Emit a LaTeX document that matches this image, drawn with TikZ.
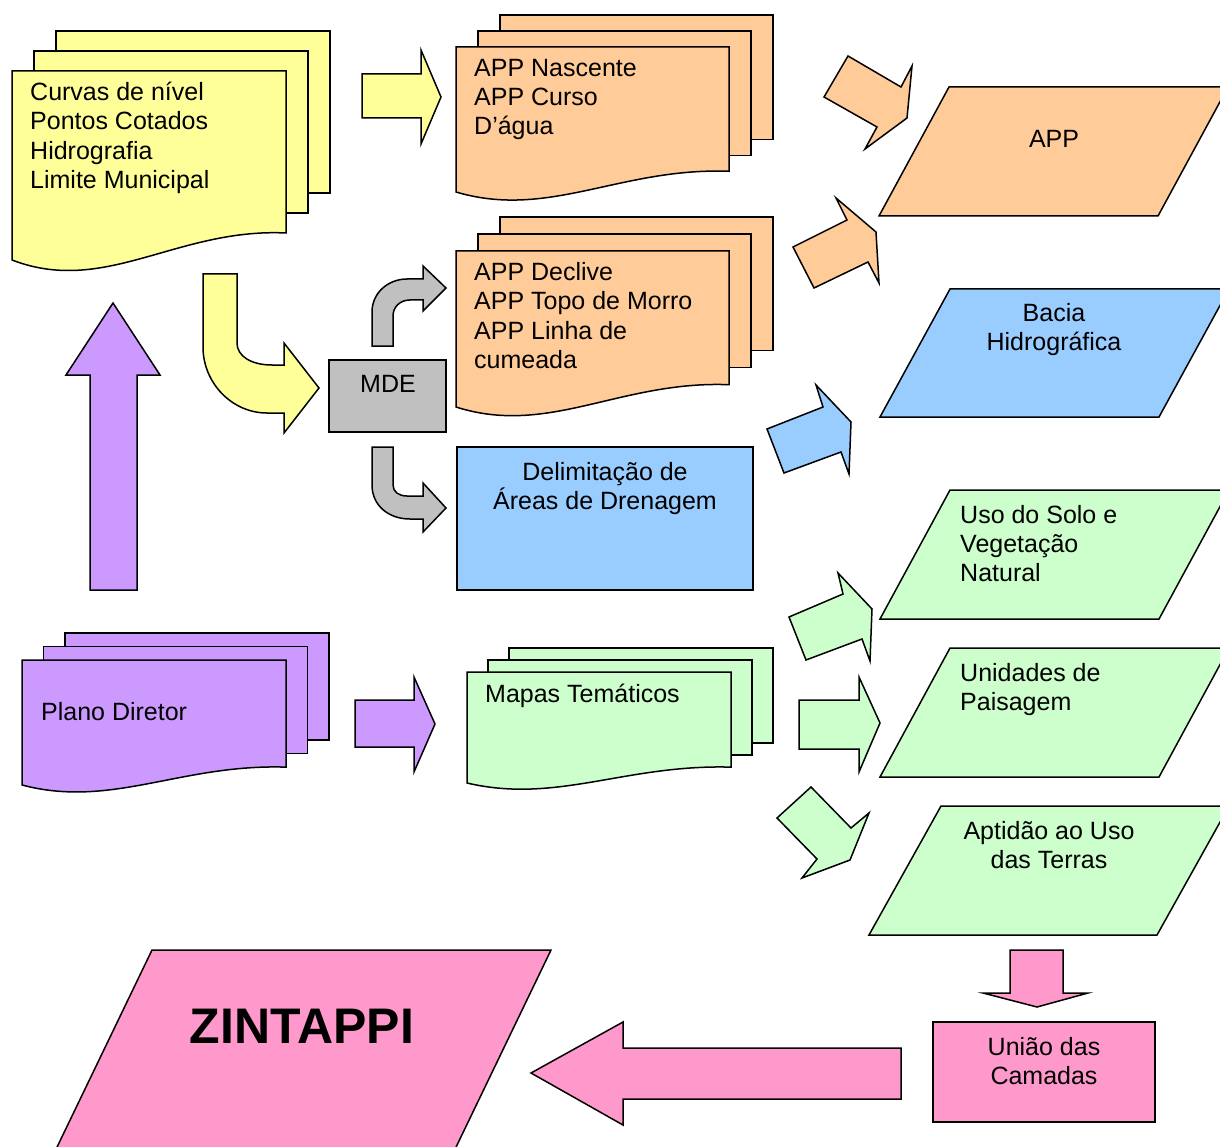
\documentclass[tikz,border=0pt]{standalone}
\usepackage{fontspec}
\setmainfont{Liberation Sans}
\definecolor{cyel}{HTML}{FFFF99}
\definecolor{corg}{HTML}{FFCC99}
\definecolor{cblu}{HTML}{99CCFF}
\definecolor{cgrn}{HTML}{CCFFCC}
\definecolor{cpur}{HTML}{CC99FF}
\definecolor{cgry}{HTML}{C0C0C0}
\definecolor{cpnk}{HTML}{FF99CC}
% multi-document shape: x0 top W H dx dy colour
\newcommand\mdoc[7]{%
  \draw[shp,fill=#7] (#1+2*#5,#2-2*#6) rectangle (#1+2*#5+#3,#2-2*#6+0.857*#4);
  \draw[shp,fill=#7] (#1+#5,#2-#6) rectangle (#1+#5+#3,#2-#6+0.857*#4);
  \draw[shp,fill=#7] (#1,#2) -- (#1+#3,#2) -- (#1+#3,#2+0.857*#4)
     .. controls (#1+0.60*#3,#2+0.83*#4) and (#1+0.34*#3,#2+1.19*#4) .. (#1,#2+#4) -- cycle;}
\begin{document}
\begin{tikzpicture}[x=1pt,y=-1pt,
  shp/.style={draw=black,line width=1.5pt,line join=miter},
  txt/.style={anchor=base west,inner sep=0pt,font=\fontsize{25}{29.3}\selectfont},
  ctxt/.style={anchor=base,inner sep=0pt,font=\fontsize{25}{29.3}\selectfont}]
\useasboundingbox (0,0) rectangle (1220,1147);

% ---------- documents ----------
\mdoc{12}{71}{274}{189}{22}{20}{cyel}
\mdoc{456}{47}{273}{145}{22}{16}{corg}
\mdoc{456}{251}{273}{156}{22}{17}{corg}
\mdoc{467}{672}{264}{111}{21}{12}{cgrn}
\mdoc{22}{660}{264}{125}{21.5}{13.5}{cpur}

% ---------- boxes ----------
\draw[shp,fill=cgry] (329,360) rectangle (446,432);
\draw[shp,fill=cblu] (457,447) rectangle (753,590);
\draw[shp,fill=cpnk] (933,1022) rectangle (1155,1122);

% ---------- parallelograms ----------
\draw[shp,fill=corg] (949,87) -- (1228,87) -- (1158,216) -- (879,216) -- cycle;
\draw[shp,fill=cblu] (950,289) -- (1229,289) -- (1159,417) -- (880,417) -- cycle;
\draw[shp,fill=cgrn] (950,490) -- (1229,490) -- (1159,619) -- (880,619) -- cycle;
\draw[shp,fill=cgrn] (950,648) -- (1229,648) -- (1159,777) -- (880,777) -- cycle;
\draw[shp,fill=cgrn] (941,806) -- (1229,806) -- (1157,935) -- (869,935) -- cycle;
\draw[shp,fill=cpnk] (152,950) -- (551,950) -- (445,1170) -- (46,1170) -- cycle;

% ---------- block arrows ----------
\draw[shp,fill=cyel] (362,74) -- (421,74) -- (421,50) -- (441,97) -- (421,144) -- (421,118) -- (362,118) -- cycle;
\draw[shp,fill=cpur] (90,590) -- (90,375) -- (66,375) -- (113,303) -- (160,375) -- (137,375) -- (137,590) -- cycle;
\draw[shp,fill=cpur] (355,700) -- (414,700) -- (414,677) -- (435,724) -- (414,772) -- (414,747) -- (355,747) -- cycle;
\draw[shp,fill=cgrn] (799,700) -- (859,700) -- (859,677) -- (880,723) -- (859,772) -- (859,749) -- (799,749) -- cycle;
\draw[shp,fill=cpnk] (1010,950) -- (1063,950) -- (1063,993) -- (1088,993) -- (1037,1007) -- (983,993) -- (1010,993) -- cycle;
\draw[shp,fill=cpnk] (901,1048) -- (623,1048) -- (623,1022) -- (531,1073) -- (623,1125) -- (623,1099) -- (901,1099) -- cycle;
% rotated arrows
\draw[shp,fill=corg] (824,97) -- (848,56) -- (901,87) -- (912,66) -- (907,118) -- (865,149) -- (877,127) -- cycle;
\draw[shp,fill=corg] (793,247) -- (847,220) -- (836,198) -- (876,232) -- (879,283) -- (868,262) -- (814,288) -- cycle;
\draw[shp,fill=cblu] (767,429) -- (823,407) -- (816,385) -- (851,422) -- (849,474) -- (841,452) -- (784,473) -- cycle;
\draw[shp,fill=cgrn] (789,617) -- (843,594) -- (838,573) -- (872,609) -- (870,661) -- (862,639) -- (806,660) -- cycle;
\draw[shp,fill=cgrn] (777,818) -- (811,787) -- (851,828) -- (869,813) -- (850,860) -- (802,878) -- (817,859) -- cycle;
% bent arrows
\draw[shp,fill=cyel] (203,274) -- (237,274) -- (237,343) .. controls (237,356) and (251,365) .. (272,365)
  -- (284,365) -- (284,343) -- (319,388) -- (284,433) -- (284,413) -- (267,413)
  .. controls (232,413) and (203,383) .. (203,347) -- cycle;
\draw[shp,fill=cgry] (372,346) -- (372,312) .. controls (372,293) and (388,279) .. (407,279)
  -- (423,279) -- (423,266) -- (446,288) -- (423,311) -- (423,300) -- (410,300)
  .. controls (400,300) and (393,307) .. (393,316) -- (393,346) -- cycle;
\draw[shp,fill=cgry] (393,447) -- (393,485) .. controls (393,492) and (399,496) .. (407,496)
  -- (423,496) -- (423,483) -- (446,508) -- (423,532) -- (423,519) -- (410,519)
  .. controls (388,519) and (372,505) .. (372,485) -- (372,447) -- cycle;

% ---------- texts ----------
\node[txt] (t1) at (30,101) {Curvas de nível};
\node[txt] (t2) at (30,130) {Pontos Cotados};
\node[txt] (t3) at (30,160) {Hidrografia};
\node[txt] (t4) at (30,189) {Limite Municipal};
\node[txt] (n1) at (474,77) {APP Nascente};
\node[txt] (n2) at (474,106) {APP Curso};
\node[txt] (n3) at (474,135) {D’água};
\node[txt] (d1) at (474,281) {APP Declive};
\node[txt] (d2) at (474,310) {APP Topo de Morro};
\node[txt] (d3) at (474,339) {APP Linha de};
\node[txt] (d4) at (474,368) {cumeada};
\node[ctxt] (mde) at (388,392) {MDE};
\node[ctxt] (da1) at (605,480) {Delimitação de};
\node[ctxt] (da2) at (605,509) {Áreas de Drenagem};
\node[ctxt] (app) at (1054,148) {APP};
\node[ctxt] (b1) at (1054,322) {Bacia};
\node[ctxt] (b2) at (1054,351) {Hidrográfica};
\node[txt] (u1) at (960,523) {Uso do Solo e};
\node[txt] (u2) at (960,552) {Vegetação};
\node[txt] (u3) at (960,581) {Natural};
\node[txt] (p1) at (960,681) {Unidades de};
\node[txt] (p2) at (960,710) {Paisagem};
\node[ctxt] (a1) at (1049,839) {Aptidão ao Uso};
\node[ctxt] (a2) at (1049,868) {das Terras};
\node[txt] (mt) at (485,702) {Mapas Temáticos};
\node[txt] (pd) at (41,720) {Plano Diretor};
\node[ctxt] (c1) at (1044,1055) {União das};
\node[ctxt] (c2) at (1044,1084) {Camadas};
\node[anchor=base,inner sep=0pt,font=\fontsize{50}{56}\selectfont\bfseries] (z) at (302,1043) {ZINTAPPI};
\end{tikzpicture}
\end{document}
